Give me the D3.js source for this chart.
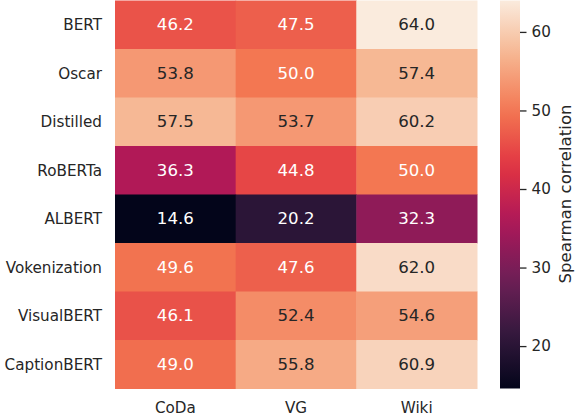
<!DOCTYPE html>
<html>
<head>
<meta charset="utf-8">
<script src="https://cdn.jsdelivr.net/npm/d3@7"></script>
<style>
  body { margin: 0; background: #fff; }
  svg { display: block; font-family: "DejaVu Sans", sans-serif; }
</style>
</head>
<body>
<div id="chart"></div>
<script>
// Heatmap data
const models = ['BERT', 'Oscar', 'Distilled', 'RoBERTa', 'ALBERT', 'Vokenization', 'VisualBERT', 'CaptionBERT'];
const datasets = ['CoDa', 'VG', 'Wiki'];
const coda = [46.2, 53.8, 57.5, 36.3, 14.6, 49.6, 46.1, 49.0];
const vg = [47.5, 50.0, 53.7, 44.8, 20.2, 47.6, 52.4, 55.8];
const wiki = [64.0, 57.4, 60.2, 50.0, 32.3, 62.0, 54.6, 60.9];
const cbarTicks = [20, 30, 40, 50, 60];

// seaborn "rocket" colormap, sampled stops
const rocketStops = ['#03051a', '#35193e', '#701f57', '#ad1759', '#e13342', '#f37651', '#f6b48f', '#faebdd'];

const width = 576, height = 414;
const ink = '#262626';

const svg = d3.select('#chart').append('svg')
    .attr('width', width)
    .attr('height', height);

const series = [coda, vg, wiki];
const cells = [];
models.forEach((m, i) => {
    datasets.forEach((d, j) => {
        cells.push({ model: m, dataset: d, value: series[j][i] });
    });
});

const allValues = series.flat();
const vmin = d3.min(allValues), vmax = d3.max(allValues);

const rocket = d3.piecewise(d3.interpolateRgb, rocketStops);
const color = d3.scaleSequential(rocket).domain([vmin, vmax]);

const x = d3.scaleBand().domain(datasets).range([115, 477]);
const y = d3.scaleBand().domain(models).range([0.5, 388.5]);

// cells
svg.append('g').selectAll('rect')
    .data(cells)
    .enter()
    .append('rect')
    .attr('x', d => x(d.dataset))
    .attr('y', d => y(d.model))
    .attr('width', x.bandwidth() + 0.5)
    .attr('height', y.bandwidth() + 0.5)
    .attr('fill', d => color(d.value));

// annotations - light cells get dark text
svg.append('g').selectAll('text')
    .data(cells)
    .enter()
    .append('text')
    .attr('x', d => x(d.dataset) + x.bandwidth() / 2)
    .attr('y', d => y(d.model) + y.bandwidth() / 2)
    .attr('dy', '0.33em')
    .attr('text-anchor', 'middle')
    .style('font-size', '16.6px')
    .style('fill', d => d.value > 51 ? ink : '#fff')
    .text(d => d3.format('.1f')(d.value));

// y tick labels
svg.append('g').selectAll('text')
    .data(models)
    .enter()
    .append('text')
    .attr('x', 102)
    .attr('y', d => y(d) + y.bandwidth() / 2)
    .attr('dy', '0.35em')
    .attr('text-anchor', 'end')
    .style('font-size', '15.2px')
    .style('fill', ink)
    .text(d => d);

// x tick labels
svg.append('g').selectAll('text')
    .data(datasets)
    .enter()
    .append('text')
    .attr('x', d => x(d) + x.bandwidth() / 2)
    .attr('y', 413)
    .attr('text-anchor', 'middle')
    .style('font-size', '15.2px')
    .style('fill', ink)
    .text(d => d);

// colorbar
const cb = { x: 500, w: 20, top: 0.5, bottom: 388.5 };
const cy = d3.scaleLinear().domain([vmin, vmax]).range([cb.bottom, cb.top]);

const defs = svg.append('defs');
const grad = defs.append('linearGradient')
    .attr('id', 'cbar')
    .attr('x1', 0).attr('y1', 1)
    .attr('x2', 0).attr('y2', 0);
d3.range(0, 1.0001, 0.05).forEach(t => {
    grad.append('stop')
        .attr('offset', t)
        .attr('stop-color', rocket(t));
});

svg.append('rect')
    .attr('x', cb.x)
    .attr('y', cb.top)
    .attr('width', cb.w)
    .attr('height', cb.bottom - cb.top)
    .attr('fill', 'url(#cbar)');

const cbAxis = svg.append('g')
    .attr('transform', `translate(${cb.x + cb.w},0)`)
    .call(d3.axisRight(cy).tickValues(cbarTicks).tickSize(6.5).tickPadding(5));
cbAxis.select('.domain').remove();
cbAxis.selectAll('line').attr('stroke', ink).attr('stroke-width', 1.3);
cbAxis.selectAll('text')
    .style('font-size', '15.2px')
    .style('font-family', '"DejaVu Sans", sans-serif')
    .attr('fill', ink);

svg.append('text')
    .attr('transform', `translate(571,194) rotate(-90)`)
    .attr('text-anchor', 'middle')
    .style('font-size', '16.6px')
    .style('fill', ink)
    .text('Spearman correlation');
</script>
</body>
</html>
